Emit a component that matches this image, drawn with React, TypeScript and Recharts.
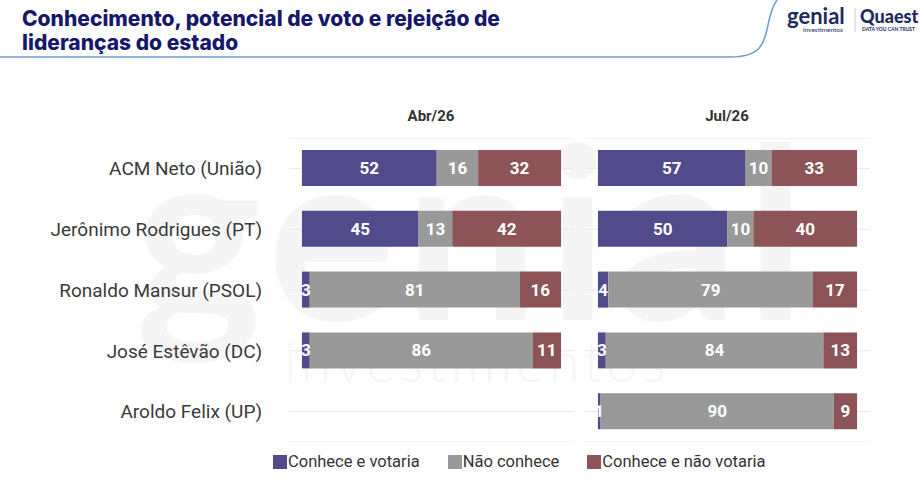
import React from "react";
import { BarChart, Bar, XAxis, YAxis, CartesianGrid, LabelList } from "recharts";

const categories = [
  "ACM Neto (União)",
  "Jerônimo Rodrigues (PT)",
  "Ronaldo Mansur (PSOL)",
  "José Estêvão (DC)",
  "Aroldo Felix (UP)",
];

const abrVotaria = [52, 45, 3, 3, null];
const abrNaoConhece = [16, 13, 81, 86, null];
const abrNaoVotaria = [32, 42, 16, 11, null];

const julVotaria = [57, 50, 4, 3, 1];
const julNaoConhece = [10, 10, 79, 84, 90];
const julNaoVotaria = [33, 40, 17, 13, 9];

const periods = ["Abr/26", "Jul/26"];
const legendItems = ["Conhece e votaria", "Não conhece", "Conhece e não votaria"];

const PURPLE = "#514a8b";
const GRAY = "#999999";
const BROWN = "#8c5456";
const COLORS = [PURPLE, GRAY, BROWN];

const FONT = "Roboto, 'Noto Sans', sans-serif";

const abrData = categories.map((name, i) => ({
  name,
  votaria: abrVotaria[i],
  naoConhece: abrNaoConhece[i],
  naoVotaria: abrNaoVotaria[i],
}));

const julData = categories.map((name, i) => ({
  name,
  votaria: julVotaria[i],
  naoConhece: julNaoConhece[i],
  naoVotaria: julNaoVotaria[i],
}));

const labelStyle = {
  fill: "#ffffff",
  fontSize: 17,
  fontWeight: 700,
  fontFamily: FONT,
};

function Panel({
  data,
  width,
  showAxis,
}: {
  data: typeof abrData;
  width: number;
  showAxis: boolean;
}) {
  const keys = ["votaria", "naoConhece", "naoVotaria"];
  return (
    <BarChart
      width={width}
      height={304}
      data={data}
      layout="vertical"
      margin={{ top: 0, right: 0, bottom: 0, left: 0 }}
      barCategoryGap={0}
    >
      <CartesianGrid horizontal={true} vertical={false} stroke="#e8e8e8" />
      <XAxis type="number" domain={[-5, 105]} hide allowDataOverflow />
      <YAxis
        type="category"
        dataKey="name"
        hide={!showAxis}
        width={289}
        axisLine={false}
        tickLine={false}
        tickSize={0}
        tickMargin={27}
        tick={{ fill: "#3a3a3a", fontSize: 19, fontFamily: FONT, fontWeight: 400 }}
      />
      {keys.map((k, idx) => (
        <Bar
          key={k}
          dataKey={k}
          stackId="a"
          fill={COLORS[idx]}
          barSize={36}
          isAnimationActive={false}
        >
          <LabelList dataKey={k} position="center" style={labelStyle} />
        </Bar>
      ))}
    </BarChart>
  );
}

export default function App() {
  return (
    <div
      style={{
        position: "absolute",
        left: 0,
        top: 0,
        width: 923,
        height: 481,
        background: "#ffffff",
        overflow: "hidden",
        fontFamily: FONT,
      }}
    >
      <svg
        width={923}
        height={481}
        style={{ position: "absolute", left: 0, top: 0 }}
      >
        {/* watermark */}
        <text
          x={135}
          y={320}
          fontSize={240}
          fontFamily="Lato, sans-serif"
          fill="#f5f5f5"
          fontWeight={700}
          letterSpacing={8}
        >
          genial
        </text>
        <text
          x={284}
          y={382}
          fontSize={56}
          fontFamily="Lato, sans-serif"
          fill="#f5f5f5"
          fontWeight={300}
          letterSpacing={4}
        >
          investimentos
        </text>
        {/* header line */}
        <path
          d="M0 57 L730 57 C760 57 764 45 768 25 C771 10 774 4 777 0"
          fill="none"
          stroke="#6b9bd0"
          strokeWidth={1.5}
        />
        <text
          x={22}
          y={26}
          fontSize={21}
          fontWeight={800}
          fill="#16196b"
          fontFamily="Inter, sans-serif"
        >
          Conhecimento, potencial de voto e rejeição de
        </text>
        <text
          x={22}
          y={50}
          fontSize={21}
          fontWeight={800}
          fill="#16196b"
          fontFamily="Inter, sans-serif"
        >
          lideranças do estado
        </text>
        {/* logos */}
        <text x={787} y={24} fontSize={22} fontWeight={700} fill="#1e2a5e" fontFamily="Lato, sans-serif">
          genial
        </text>
        <text x={803} y={32} fontSize={6.5} fill="#1e2a5e" fontFamily="Lato, sans-serif">
          investimentos
        </text>
        <line x1={855} y1={8} x2={855} y2={32} stroke="#c8c8d8" strokeWidth={1} />
        <text x={860} y={23} fontSize={18} fontWeight={900} fill="#1e2a5e" fontFamily="Lato, sans-serif">
          Quaest
        </text>
        <text x={862} y={31} fontSize={5} fontWeight={700} fill="#1e2a5e" fontFamily="Lato, sans-serif">
          DATA YOU CAN TRUST
        </text>
        {/* period headers */}
        {periods.map((p, i) => (
          <text
            key={p}
            x={i === 0 ? 431 : 727}
            y={121}
            textAnchor="middle"
            fontSize={15}
            fontWeight={700}
            fill="#333333"
            fontFamily={FONT}
          >
            {p}
          </text>
        ))}
      </svg>

      <div style={{ position: "absolute", left: 0, top: 138 }}>
        <Panel data={abrData} width={574} showAxis={true} />
      </div>
      <div style={{ position: "absolute", left: 585, top: 138 }}>
        <Panel data={julData} width={285} showAxis={false} />
      </div>

      <div
        style={{
          position: "absolute",
          left: 273,
          top: 452,
          display: "flex",
          alignItems: "center",
          fontSize: 16.5,
          color: "#333333",
          fontFamily: FONT,
        }}
      >
        {legendItems.map((item, i) => (
          <div
            key={item}
            style={{
              display: "flex",
              alignItems: "center",
              marginRight: 28,
            }}
          >
            <span
              style={{
                display: "inline-block",
                width: 14,
                height: 14,
                background: COLORS[i],
                marginRight: 1,
              }}
            />
            <span>{item}</span>
          </div>
        ))}
      </div>
    </div>
  );
}
